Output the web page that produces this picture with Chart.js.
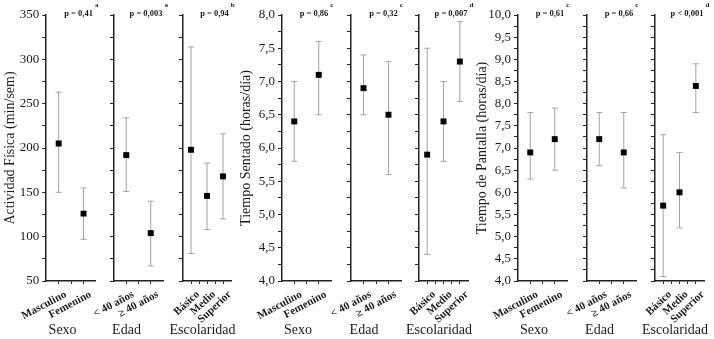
<!DOCTYPE html>
<html><head><meta charset="utf-8">
<script src="https://cdn.jsdelivr.net/npm/chart.js@4.4.0/dist/chart.umd.min.js"></script>
<style>
html,body{margin:0;padding:0;background:#fff;}
#wrap{position:relative;width:714px;height:339px;overflow:hidden;background:#fff;}
#wrap canvas{position:absolute;left:0;top:0;}
</style></head><body><div id="wrap"></div>
<script>
// ---- categories ----
const sexoLabels = ['Masculino', 'Femenino'];
const edadLabels = ['< 40 años', '≥ 40 años'];
const escolaridadLabels = ['Básico', 'Medio', 'Superior'];
const groupTitles = ['Sexo', 'Edad', 'Escolaridad'];

// ---- Actividad Física (min/sem) ----
const afSexoMedia = [205, 126];
const afSexoInf   = [150, 97];
const afSexoSup   = [263, 155];
const afEdadMedia = [192, 104];
const afEdadInf   = [151, 67];
const afEdadSup   = [234, 140];
const afEscMedia  = [198, 146, 168];
const afEscInf    = [81, 108, 120];
const afEscSup    = [314, 183, 216];

// ---- Tiempo Sentado (horas/día) ----
const tsSexoMedia = [6.4, 7.1];
const tsSexoInf   = [5.8, 6.5];
const tsSexoSup   = [7.0, 7.6];
const tsEdadMedia = [6.9, 6.5];
const tsEdadInf   = [6.5, 5.6];
const tsEdadSup   = [7.4, 7.3];
const tsEscMedia  = [5.9, 6.4, 7.3];
const tsEscInf    = [4.4, 5.8, 6.7];
const tsEscSup    = [7.5, 7.0, 7.9];

// ---- Tiempo de Pantalla (horas/día) ----
const tpSexoMedia = [6.9, 7.2];
const tpSexoInf   = [6.3, 6.5];
const tpSexoSup   = [7.8, 7.9];
const tpEdadMedia = [7.2, 6.9];
const tpEdadInf   = [6.6, 6.1];
const tpEdadSup   = [7.8, 7.8];
const tpEscMedia  = [5.7, 6.0, 8.4];
const tpEscInf    = [4.1, 5.2, 7.8];
const tpEscSup    = [7.3, 6.9, 8.9];

// ---- p values ----
const afP = ['p = 0,41', 'p = 0,003', 'p = 0,94'];
const afPSup = ['a', 'a', 'b'];
const tsP = ['p = 0,86', 'p = 0,32', 'p = 0,007'];
const tsPSup = ['c', 'c', 'd'];
const tpP = ['p = 0,61', 'p = 0,66', 'p < 0,001'];
const tpPSup = ['c', 'c', 'd'];

// ---- tick labels ----
const afTickLabels = ['50', '100', '150', '200', '250', '300', '350'];
const tsTickLabels = ['4,0', '4,5', '5,0', '5,5', '6,0', '6,5', '7,0', '7,5', '8,0'];
const tpTickLabels = ['4,0', '4,5', '5,0', '5,5', '6,0', '6,5', '7,0', '7,5', '8,0', '8,5', '9,0', '9,5', '10,0'];

// ---- assembly ----
const catLists = [sexoLabels, edadLabels, escolaridadLabels];
const panels = [
  { title: 'Actividad Física (min/sem)', min: 50, max: 350, step: 25, tickLabels: afTickLabels,
    media: [afSexoMedia, afEdadMedia, afEscMedia], inf: [afSexoInf, afEdadInf, afEscInf], sup: [afSexoSup, afEdadSup, afEscSup],
    p: afP, pSup: afPSup },
  { title: 'Tiempo Sentado (horas/día)', min: 4, max: 8, step: 0.25, tickLabels: tsTickLabels,
    media: [tsSexoMedia, tsEdadMedia, tsEscMedia], inf: [tsSexoInf, tsEdadInf, tsEscInf], sup: [tsSexoSup, tsEdadSup, tsEscSup],
    p: tsP, pSup: tsPSup },
  { title: 'Tiempo de Pantalla (horas/día)', min: 4, max: 10, step: 0.25, tickLabels: tpTickLabels,
    media: [tpSexoMedia, tpEdadMedia, tpEscMedia], inf: [tpSexoInf, tpEdadInf, tpEscInf], sup: [tpSexoSup, tpEdadSup, tpEscSup],
    p: tpP, pSup: tpPSup }
];

// layout of sub-plot areas (left spine, right end), in px
const areas = [
  [[46, 96], [114, 163], [183, 231]],
  [[282, 331], [351, 401], [419, 468]],
  [[518, 567], [587, 636], [655, 704]]
];
// horizontal shift of each group title from the centre of its plot area
const groupTitleShift = [-8.5, -12, -4.5];

const SERIF = "'Liberation Serif', 'Times New Roman', serif";
const INK = '#1a1a1a';
const BAR = '#a3a3a3';

const annotPlugin = {
  id: 'annot',
  afterDraw(chart, args, opts) {
    const { ctx, chartArea } = chart;
    const mid = (chartArea.left + chartArea.right) / 2;
    ctx.save();
    ctx.fillStyle = INK;
    ctx.textBaseline = 'middle';
    // p value with superscript
    ctx.font = 'bold 8.5px ' + SERIF;
    ctx.textAlign = 'center';
    const cx = mid + 7.5;
    const cy = chartArea.top - 1;
    ctx.fillText(opts.text, cx, cy);
    const w = ctx.measureText(opts.text).width;
    ctx.font = 'bold 7px ' + SERIF;
    ctx.textAlign = 'left';
    ctx.fillText(opts.sup, cx + w / 2 + 2, cy - 9);
    // group title under the category labels
    ctx.font = '14px ' + SERIF;
    ctx.textAlign = 'center';
    ctx.fillText(opts.group, mid + opts.groupShift, chart.height - 8.5);
    ctx.restore();
  }
};

const wrap = document.getElementById('wrap');

panels.forEach((P, pi) => {
  for (let s = 0; s < 3; s++) {
    const cats = catLists[s];
    const media = P.media[s], inf = P.inf[s], sup = P.sup[s];
    const [left, right] = areas[pi][s];
    const yW = s === 0 ? 44 : 5;
    const rot = s === 2 ? 43 : 28;
    const xTicks = [];
    for (let v = 1; v <= cats.length; v += 0.5) xTicks.push(v);

    const datasets = [{
      type: 'scatter',
      data: media.map((m, i) => ({ x: i + 1, y: m })),
      pointStyle: 'rect', pointRadius: 4.2, pointHoverRadius: 4.2,
      backgroundColor: '#000', borderColor: '#000', borderWidth: 0
    }];
    cats.forEach((c, i) => {
      datasets.push({
        type: 'line',
        data: [{ x: i + 1, y: inf[i] }, { x: i + 1, y: sup[i] }],
        borderColor: BAR, borderWidth: 1, fill: false,
        pointStyle: 'line', pointRadius: 3, pointHoverRadius: 3,
        pointBorderColor: BAR, pointBorderWidth: 1, pointBackgroundColor: BAR
      });
    });

    const cv = document.createElement('canvas');
    cv.width = 714; cv.height = 339;
    wrap.appendChild(cv);

    new Chart(cv, {
      type: 'scatter',
      data: { datasets },
      options: {
        responsive: false, animation: false, events: [],
        layout: { padding: { left: left - yW, right: 714 - right, top: 15, bottom: 0 } },
        plugins: {
          legend: { display: false }, tooltip: { enabled: false },
          annot: { text: P.p[s], sup: P.pSup[s], group: groupTitles[s], groupShift: groupTitleShift[s] }
        },
        scales: {
          x: {
            type: 'linear', position: 'bottom', min: 0.5, max: cats.length + 0.5,
            afterBuildTicks: sc => { sc.ticks = xTicks.map(v => ({ value: v })); },
            afterFit: sc => { sc.height = 58; },
            ticks: {
              autoSkip: false, minRotation: rot, maxRotation: rot, labelOffset: 7, padding: 4,
              font: { family: SERIF, size: 11, weight: 'bold' }, color: INK,
              callback: v => Number.isInteger(v) ? cats[v - 1] : ''
            },
            grid: { drawOnChartArea: false, drawTicks: true, tickLength: 3, color: '#222' },
            border: { display: true, color: '#222', width: 1.5 },
            title: { display: false }
          },
          y: {
            type: 'linear', position: 'left', min: P.min, max: P.max,
            afterFit: sc => { sc.width = yW; },
            ticks: {
              stepSize: P.step, autoSkip: false, display: s === 0, padding: 3,
              font: { family: SERIF, size: 13 }, color: INK,
              callback: (v, i) => (i % 2 === 0 ? P.tickLabels[i / 2] : '')
            },
            grid: { drawOnChartArea: false, drawTicks: true, tickLength: 4, color: '#222' },
            border: { display: true, color: '#222', width: 1.5 },
            title: {
              display: s === 0, text: P.title,
              font: { family: SERIF, size: 14 }, color: INK, padding: { top: 0, bottom: 0 }
            }
          }
        }
      },
      plugins: [annotPlugin]
    });
  }
});
</script>
</body></html>
